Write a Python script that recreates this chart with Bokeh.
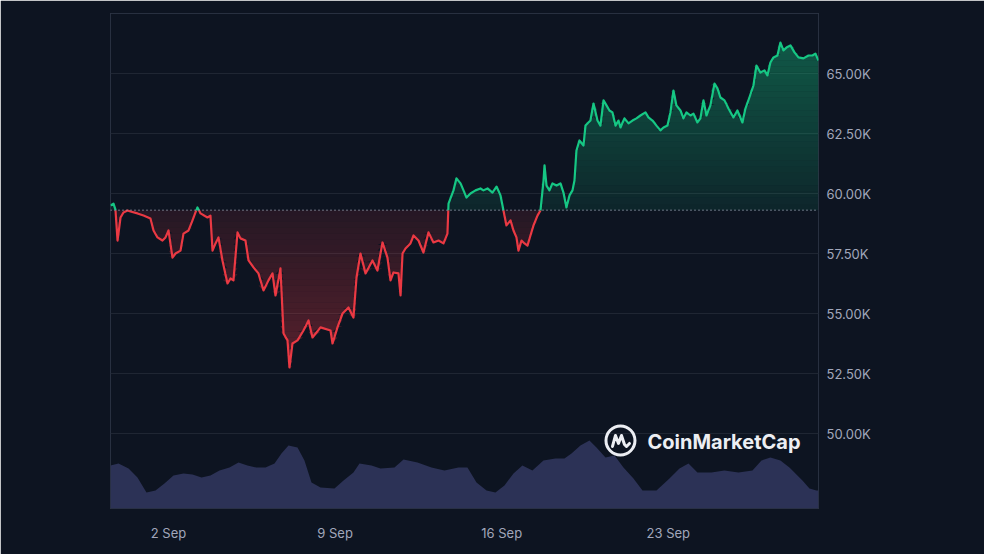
import numpy as np
import pandas as pd
from bokeh.plotting import figure
from bokeh.models import Range1d, FixedTicker, Span, Label
from bokeh.embed import file_html
from bokeh.resources import INLINE
from bokeh.core.properties import value

# ---------------- data ----------------
START = pd.Timestamp("2024-08-30 00:00")   # hours below are counted from here

price_hours = [
    13.5, 16.5, 18.5, 20.6, 23.6, 26.6, 30.6, 33.7, 40.7, 46.8, 53.8, 56.9, 60.9, 65.9,
    69.0, 72.0, 76.0, 79.1, 84.1, 87.1, 92.2, 96.2, 99.2, 101.2, 104.3, 111.3, 114.3,
    116.4, 119.4, 122.4, 126.4, 131.5, 134.5, 137.5, 141.6, 144.6, 149.6, 152.7, 157.7,
    162.7, 167.8, 172.8, 176.9, 179.9, 184.9, 188.0, 192.0, 194.0, 197.0, 202.1, 208.1,
    213.2, 217.2, 225.3, 235.4, 237.4, 242.4, 247.5, 253.5, 258.5, 261.6, 265.6, 270.7,
    277.7, 282.7, 287.8, 292.8, 295.9, 298.9, 303.9, 306.0, 308.0, 311.0, 316.0, 319.1,
    324.1, 329.1, 334.2, 339.2, 344.3, 349.3, 353.3, 354.4, 359.4, 362.4, 366.5, 369.5,
    372.5, 376.5, 381.6, 386.6, 389.6, 393.7, 398.7, 402.8, 406.8, 409.8, 412.8, 416.9,
    419.9, 422.9, 424.9, 428.0, 431.0, 434.0, 437.0, 440.1, 444.1, 447.1, 450.2, 451.2,
    453.2, 456.2, 459.2, 463.3, 467.3, 470.3, 473.3, 476.4, 479.4, 481.4, 483.4, 486.4,
    490.5, 492.5, 497.5, 500.6, 504.6, 507.6, 510.7, 513.7, 516.7, 519.7, 522.8, 525.8,
    527.8, 531.8, 535.9, 539.9, 543.9, 547.9, 553.0, 556.0, 560.1, 564.1, 568.1, 571.2,
    575.2, 578.2, 581.2, 584.2, 588.3, 591.3, 594.3, 598.4, 601.4, 605.4, 608.4, 611.5,
    614.5, 618.5, 622.6, 625.6, 628.6, 632.7, 636.7, 641.7, 645.7, 650.8, 653.8, 657.8,
    661.9, 664.9, 668.9, 673.0, 676.0, 679.0, 682.1, 686.1, 689.1, 692.1, 695.2, 699.2,
    703.3, 707.3, 712.3, 717.4, 721.4, 724.4, 727.5,
]
price_values = [
    59500, 59580, 59330, 58040, 59000, 59210, 59290, 59250, 59170, 59080, 58960, 58460,
    58170, 58040, 58170, 58460, 57330, 57500, 57620, 58330, 58460, 58880, 59210, 59420,
    59170, 59000, 59080, 57620, 57920, 58170, 57210, 56250, 56460, 56380, 58380, 58130,
    58040, 57210, 56920, 56670, 55960, 56380, 56670, 55750, 56880, 54170, 53880, 52750,
    53750, 53880, 54290, 54710, 54000, 54420, 54290, 53750, 54420, 55000, 55250, 54830,
    56500, 57500, 56670, 57210, 56790, 57960, 57330, 56380, 56710, 56670, 55750, 57500,
    57710, 57920, 58250, 58040, 57540, 58380, 57960, 58040, 57920, 58330, 59580, 60130,
    60630, 60420, 60130, 59830, 60000, 60130, 60210, 60130, 60210, 60040, 60290, 59920,
    59290, 58670, 58880, 58460, 58170, 57620, 58040, 57920, 57830, 58250, 58670, 59080,
    59290, 60540, 61170, 60330, 60130, 60420, 60330, 60420, 60040, 59420, 59920, 60130,
    60540, 61790, 62210, 62000, 62830, 63040, 63750, 63040, 62830, 63880, 63670, 63460,
    63380, 62830, 63040, 62750, 63130, 62920, 63040, 63130, 63250, 63380, 63170, 63040,
    62830, 62630, 62750, 62830, 63380, 64290, 63670, 63460, 63130, 63380, 63250, 63330,
    62960, 63130, 63880, 63250, 63670, 64580, 64380, 64000, 63880, 63540, 63170, 63460,
    62960, 63540, 64000, 64500, 65330, 65040, 65130, 64920, 65460, 65670, 65750, 66290,
    65960, 66080, 66170, 65880, 65670, 65630, 65750, 65750, 65830, 65540,
]

volume_hours = [
    13.5, 21.6, 31.7, 40.7, 49.8, 58.9, 67.9, 77.0, 87.1, 96.2, 105.3, 114.3, 123.4,
    133.5, 142.6, 151.6, 160.7, 169.8, 178.9, 185.9, 193.0, 202.1, 209.1, 216.2, 225.3,
    239.4, 248.5, 258.5, 264.6, 276.7, 285.8, 299.9, 309.0, 323.1, 337.2, 350.3, 364.4,
    373.5, 382.6, 392.7, 401.7, 410.8, 419.9, 428.9, 439.0, 450.1, 462.2, 471.3, 478.4,
    487.4, 496.5, 503.6, 512.7, 521.8, 530.8, 540.9, 550.0, 564.1, 577.2, 587.3, 596.4,
    605.4, 619.5, 632.6, 646.8, 660.9, 670.0, 679.0, 689.1, 698.2, 711.3, 718.4, 725.4,
    727.5,
]
volume_billions = [
    34.7, 36.4, 32.3, 25.0, 12.9, 14.5, 20.2, 26.7, 28.3, 27.5, 25.0, 26.7, 30.7, 33.1,
    37.2, 34.7, 33.1, 33.1, 36.4, 44.4, 50.9, 49.3, 38.8, 21.0, 17.0, 16.2, 22.6, 29.1,
    36.4, 34.7, 32.3, 33.1, 39.6, 37.2, 33.1, 30.7, 33.1, 33.1, 21.0, 14.5, 12.9, 18.6,
    28.3, 34.7, 30.7, 38.8, 40.4, 40.4, 44.4, 50.9, 54.9, 49.3, 41.2, 42.8, 33.1, 24.2,
    14.5, 14.5, 24.2, 32.3, 36.4, 29.1, 29.1, 30.7, 29.1, 30.7, 38.8, 41.2, 38.8, 33.1,
    22.6, 16.2, 14.5, 14.5,
]

baseline_price = 59300
y_tick_values = [50000, 52500, 55000, 57500, 60000, 62500, 65000]
y_tick_labels = ["50.00K", "52.50K", "55.00K", "57.50K", "60.00K", "62.50K", "65.00K"]
x_tick_dates = ["2024-09-02", "2024-09-09", "2024-09-16", "2024-09-23"]
x_tick_labels = ["2 Sep", "9 Sep", "16 Sep", "23 Sep"]
watermark_text = "CoinMarketCap"
edge_labels = ["6", "2"]          # half-hidden characters at the very bottom edge
edge_label_hours = [15.5, 677.0]

# ---------------- styles ----------------
BG = "#0d1421"
GRID = "#1f2633"
FRAME = "#283040"
GREEN = "#16c784"
RED = "#ea3943"
VOL = "#2c3256"
LABEL = "#a1a7bb"
Y_START, Y_END = 46875, 67500
VOL_END = 400

t = np.array(price_hours, float)
pz = np.array(price_values, float)
base = baseline_price

# insert baseline crossings so the two colours meet exactly
xs, ys = [t[0]], [pz[0]]
for i in range(1, len(t)):
    a, b = pz[i - 1] - base, pz[i] - base
    if a * b < 0:
        f = a / (a - b)
        xs.append(t[i - 1] + f * (t[i] - t[i - 1]))
        ys.append(base)
    xs.append(t[i])
    ys.append(pz[i])
xs = np.array(xs)
ys = np.array(ys)
green_y = np.where(ys >= base, ys, np.nan)
red_y = np.where(ys <= base, ys, np.nan)

p = figure(
    width=984, height=554,
    x_range=Range1d(price_hours[0], price_hours[-1]),
    y_range=Range1d(Y_START, Y_END),
    y_axis_location="right",
    output_backend="svg", toolbar_location=None,
    background_fill_color=BG, border_fill_color=BG,
    min_border_left=110, min_border_right=166, min_border_top=13, min_border_bottom=46,
)
p.extra_y_ranges = {"vol": Range1d(0, VOL_END)}
p.outline_line_color = FRAME
p.outline_line_width = 1

# volume
p.varea(x=volume_hours, y1=0, y2=volume_billions, y_range_name="vol",
        fill_color=VOL, fill_alpha=1.0)

# green gradient fill (above baseline)
top_level = max(price_values) + 300
N = 28
levels = np.linspace(base, top_level, N + 1)
for j in range(N):
    L0, L1 = levels[j], levels[j + 1]
    a = 0.10 + 0.30 * (j + 0.5) / N
    p.varea(x=xs, y1=L0, y2=np.clip(ys, L0, L1), fill_color=GREEN, fill_alpha=a)

# red gradient fill (below baseline)
bot_level = min(price_values) - 200
levels = np.linspace(base, bot_level, N + 1)
for j in range(N):
    L0, L1 = levels[j], levels[j + 1]
    a = 0.11 + 0.24 * (j + 0.5) / N
    p.varea(x=xs, y1=L0, y2=np.clip(ys, L1, L0), fill_color=RED, fill_alpha=a)

# baseline
p.add_layout(Span(location=base, dimension="width", line_color="#9aa1b3",
                  line_dash="1 3", line_width=1.5, line_alpha=0.9))

# price lines
p.line(xs, red_y, line_color=RED, line_width=2.2, line_join="round")
p.line(xs, green_y, line_color=GREEN, line_width=2.2, line_join="round")

# axes
x_ticks = [int(round((pd.Timestamp(d) - START) / pd.Timedelta(hours=1))) for d in x_tick_dates]
p.xaxis.ticker = FixedTicker(ticks=x_ticks)
p.xaxis.major_label_overrides = {k: v for k, v in zip(x_ticks, x_tick_labels)}
p.yaxis.ticker = FixedTicker(ticks=y_tick_values)
p.yaxis.major_label_overrides = {k: v for k, v in zip(y_tick_values, y_tick_labels)}
for ax in (p.xaxis[0], p.yaxis[0]):
    ax.axis_line_color = None
    ax.major_tick_line_color = None
    ax.minor_tick_line_color = None
    ax.major_tick_out = 0
    ax.major_tick_in = 0
    ax.major_label_text_color = LABEL
    ax.major_label_text_font = "Inter"
    ax.major_label_text_font_size = "13px"
p.xaxis.major_label_standoff = 16
p.yaxis.major_label_standoff = 8
p.xgrid.visible = False
p.ygrid.ticker = FixedTicker(ticks=y_tick_values)
p.ygrid.grid_line_color = GRID
p.ygrid.grid_line_width = 1

# watermark (logo ring + wave + text)
logo_h, logo_p = 527.8, 49710
px_h, px_p = 1.0084, 1 / 24 * 1000
p.scatter([logo_h], [logo_p], marker="circle", size=29, fill_color=None,
          line_color="#eceef3", line_width=3)
wave = [(-8, 6), (-5, -5), (-2, 3), (1, -5), (4, 4), (6, 6), (9, 3)]
p.line([logo_h + dx * px_h for dx, dy in wave], [logo_p - dy * px_p for dx, dy in wave],
       line_color="#eceef3", line_width=3, line_join="round", line_cap="round")
p.text(x=[555.0], y=[49640], text=[watermark_text], text_font=value("Inter"),
       text_font_size="20px", text_font_style="bold", text_color="#eceef3",
       text_baseline="middle", text_align="left")

for txt, h in zip(edge_labels, edge_label_hours):
    p.add_layout(Label(x=h, y=45330, text=txt, text_color="#343b4a",
                       text_font_size="12px", text_font="Inter",
                       text_baseline="middle", text_align="center"))

open("out.html", "w").write(file_html(p, INLINE))
